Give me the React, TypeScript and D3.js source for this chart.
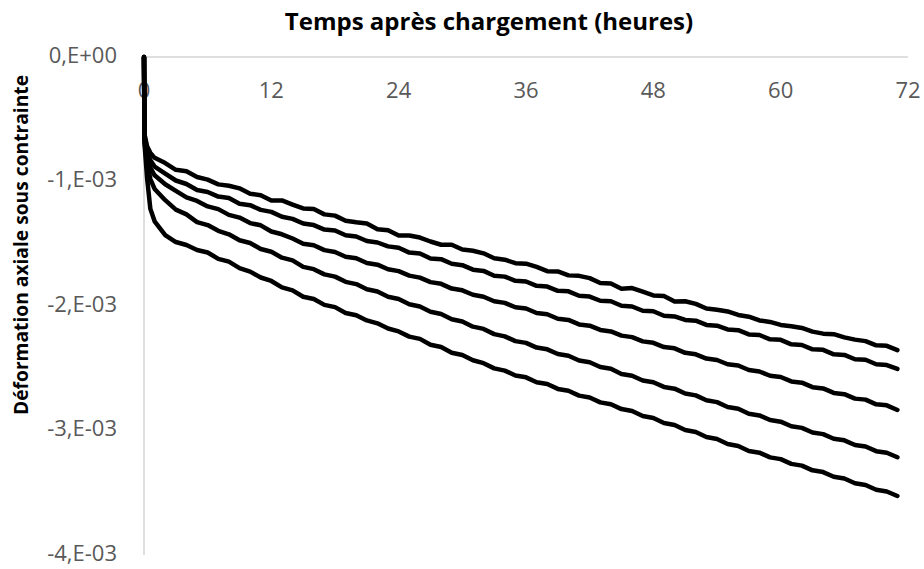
import React from "react";
import * as d3 from "d3";

// strain values in units of 1e-3
const earlyTimes = [0, 0.05, 0.3, 0.6];
const hours = d3.range(1, 72);
const times = [...earlyTimes, ...hours];

const curveA = [
  0, -0.62, -0.72, -0.77,
  -0.81, -0.852, -0.906, -0.918, -0.964, -0.985, -1.023, -1.034, -1.055, -1.098,
  -1.111, -1.152, -1.152, -1.185, -1.216, -1.221, -1.264, -1.274, -1.315, -1.328,
  -1.338, -1.383, -1.391, -1.434, -1.434, -1.45, -1.482, -1.508, -1.508, -1.546,
  -1.556, -1.577, -1.617, -1.628, -1.656, -1.66, -1.686, -1.72, -1.722, -1.754,
  -1.758, -1.776, -1.815, -1.82, -1.862, -1.856, -1.885, -1.915, -1.92, -1.964,
  -1.962, -1.983, -2.02, -2.03, -2.044, -2.072, -2.086, -2.116, -2.128, -2.152,
  -2.162, -2.176, -2.206, -2.222, -2.226, -2.252, -2.27, -2.282, -2.316, -2.32,
  -2.355,
];
const curveB = [
  0, -0.64, -0.76, -0.83,
  -0.88, -0.936, -0.992, -1.02, -1.068, -1.084, -1.121, -1.132, -1.178, -1.19,
  -1.228, -1.244, -1.283, -1.3, -1.337, -1.35, -1.386, -1.394, -1.432, -1.442,
  -1.478, -1.49, -1.521, -1.532, -1.571, -1.578, -1.618, -1.624, -1.661, -1.672,
  -1.708, -1.718, -1.757, -1.764, -1.798, -1.803, -1.838, -1.844, -1.878, -1.882,
  -1.918, -1.924, -1.958, -1.962, -1.998, -2.004, -2.038, -2.042, -2.078, -2.084,
  -2.112, -2.118, -2.152, -2.158, -2.188, -2.194, -2.228, -2.233, -2.268, -2.272,
  -2.308, -2.313, -2.348, -2.352, -2.388, -2.393, -2.428, -2.432, -2.468, -2.474,
  -2.505,
];
const curveC = [
  0, -0.66, -0.8, -0.89,
  -0.95, -1.022, -1.075, -1.128, -1.156, -1.2, -1.222, -1.268, -1.29, -1.334,
  -1.352, -1.402, -1.424, -1.458, -1.5, -1.512, -1.551, -1.566, -1.604, -1.616,
  -1.655, -1.668, -1.705, -1.72, -1.756, -1.772, -1.808, -1.822, -1.86, -1.874,
  -1.91, -1.926, -1.962, -1.975, -2.01, -2.02, -2.056, -2.066, -2.102, -2.112,
  -2.148, -2.158, -2.192, -2.204, -2.238, -2.25, -2.284, -2.296, -2.33, -2.34,
  -2.376, -2.388, -2.422, -2.434, -2.468, -2.478, -2.514, -2.526, -2.56, -2.57,
  -2.606, -2.616, -2.652, -2.662, -2.698, -2.708, -2.744, -2.752, -2.79, -2.798,
  -2.835,
];
const curveD = [
  0, -0.68, -0.86, -0.98,
  -1.06, -1.15, -1.226, -1.264, -1.326, -1.35, -1.396, -1.424, -1.472, -1.494,
  -1.542, -1.564, -1.612, -1.634, -1.686, -1.704, -1.746, -1.764, -1.806, -1.824,
  -1.866, -1.884, -1.926, -1.944, -1.986, -2.004, -2.046, -2.064, -2.106, -2.124,
  -2.166, -2.184, -2.226, -2.244, -2.282, -2.296, -2.334, -2.348, -2.386, -2.4,
  -2.438, -2.452, -2.49, -2.504, -2.546, -2.56, -2.598, -2.612, -2.65, -2.664,
  -2.703, -2.718, -2.757, -2.772, -2.811, -2.826, -2.866, -2.879, -2.916, -2.929,
  -2.966, -2.979, -3.016, -3.029, -3.066, -3.079, -3.116, -3.129, -3.166, -3.179,
  -3.215,
];
const curveE = [
  0, -0.7, -0.98, -1.22,
  -1.32, -1.43, -1.486, -1.51, -1.55, -1.57, -1.621, -1.644, -1.696, -1.724,
  -1.771, -1.799, -1.851, -1.874, -1.926, -1.944, -1.991, -2.009, -2.056, -2.074,
  -2.116, -2.139, -2.181, -2.204, -2.246, -2.264, -2.311, -2.329, -2.376, -2.394,
  -2.436, -2.459, -2.501, -2.519, -2.558, -2.573, -2.612, -2.627, -2.666, -2.681,
  -2.72, -2.735, -2.774, -2.789, -2.828, -2.844, -2.884, -2.9, -2.94, -2.956,
  -2.996, -3.012, -3.052, -3.068, -3.108, -3.124, -3.164, -3.178, -3.216, -3.23,
  -3.268, -3.282, -3.32, -3.334, -3.372, -3.386, -3.424, -3.438, -3.476, -3.49,
  -3.526,
];
const allCurves = [curveA, curveB, curveC, curveD, curveE];

const xTicks = [0, 12, 24, 36, 48, 60, 72];
const yTicks = [0, -1, -2, -3, -4];
const yTickLabels = ["0,E+00", "-1,E-03", "-2,E-03", "-3,E-03", "-4,E-03"];

const xTitle = "Temps après chargement (heures)";
const yTitle = "Déformation axiale sous contrainte";

const W = 924;
const H = 569;
const margin = { top: 57, right: 16, bottom: 14, left: 144 };
const font = "'Open Sans', 'Liberation Sans', sans-serif";

export default function App() {
  const x = d3
    .scaleLinear()
    .domain([0, 72])
    .range([margin.left, W - margin.right]);
  const y = d3
    .scaleLinear()
    .domain([0, -4])
    .range([margin.top, H - margin.bottom]);

  const line = d3
    .line<number>()
    .x((d, i) => x(times[i]))
    .y((d) => y(d));

  return (
    <svg
      width={W}
      height={H}
      style={{ position: "absolute", left: 0, top: 0, background: "#fff" }}
      fontFamily={font}
    >
      {/* axes */}
      <line x1={x(0)} x2={x(72)} y1={y(0)} y2={y(0)} stroke="#bfbfbf" strokeWidth={1} />
      <line x1={x(0)} x2={x(0)} y1={y(0)} y2={y(-4)} stroke="#bfbfbf" strokeWidth={1} />

      {xTicks.map((t) => (
        <text
          key={t}
          x={x(t)}
          y={y(0) + 35}
          textAnchor="middle"
          dominantBaseline="middle"
          fontSize={22}
          fill="#595959"
        >
          {t}
        </text>
      ))}
      {yTicks.map((t, i) => (
        <text
          key={t}
          x={x(0) - 27}
          y={y(t)}
          textAnchor="end"
          dominantBaseline="middle"
          fontSize={22}
          fill="#595959"
        >
          {yTickLabels[i]}
        </text>
      ))}

      {/* titles */}
      <text
        x={489}
        y={24}
        textAnchor="middle"
        dominantBaseline="middle"
        fontSize={24}
        fontWeight="bold"
        fill="#000"
      >
        {xTitle}
      </text>
      <text
        transform={`translate(23,${(y(0) + y(-4)) / 2 - 61}) rotate(-90)`}
        textAnchor="middle"
        dominantBaseline="middle"
        fontSize={20}
        fontWeight="bold"
        fill="#000"
        textLength={340}
        lengthAdjust="spacingAndGlyphs"
      >
        {yTitle}
      </text>

      {/* curves */}
      {allCurves.map((c, i) => (
        <path
          key={i}
          d={line(c) ?? ""}
          fill="none"
          stroke="#000"
          strokeWidth={4.5}
          strokeLinejoin="round"
          strokeLinecap="round"
        />
      ))}
    </svg>
  );
}
